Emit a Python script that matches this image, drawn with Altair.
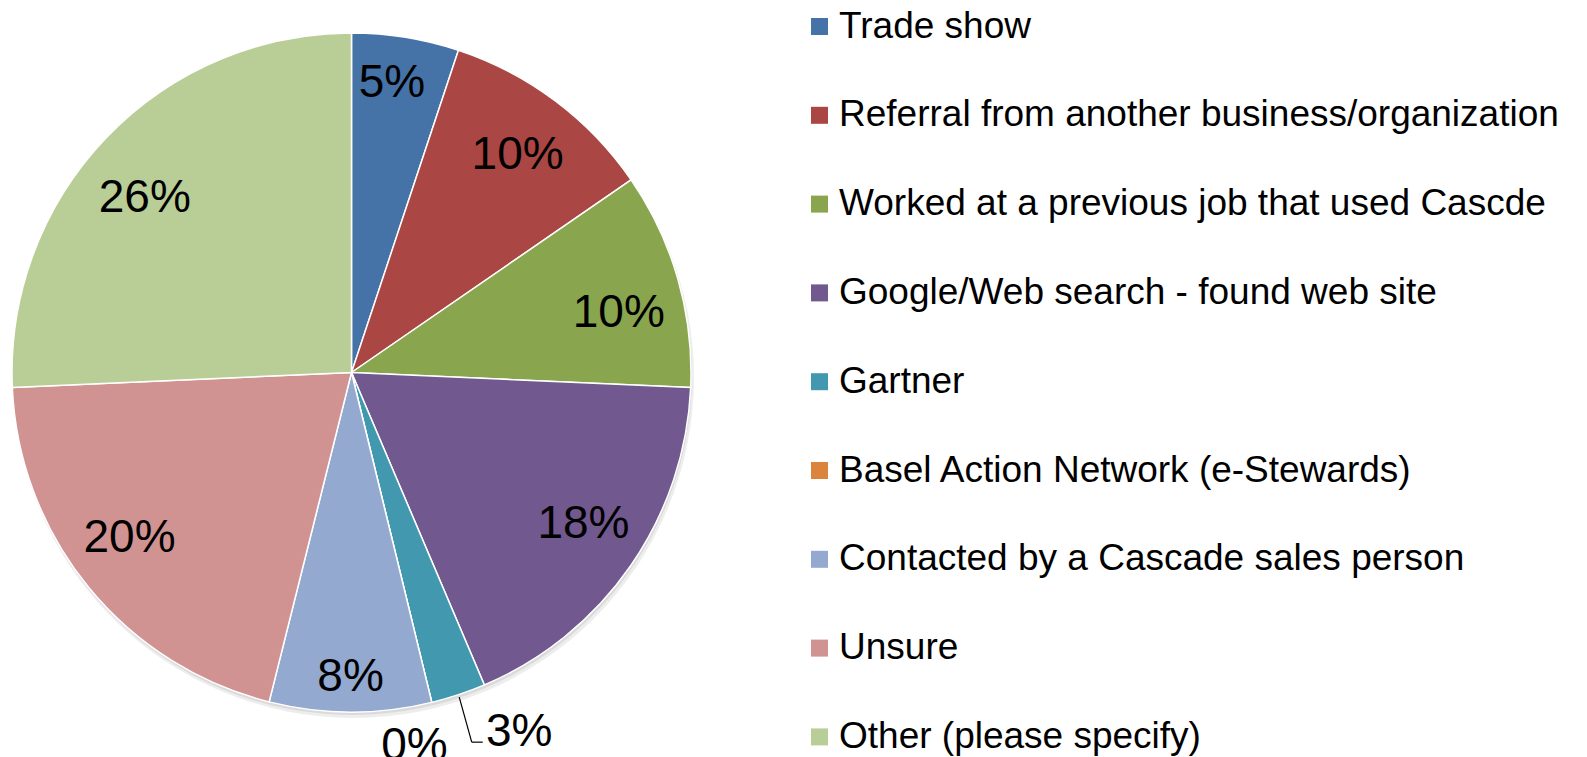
import math
import altair as alt
import pandas as pd

categories = [
    "Trade show",
    "Referral from another business/organization",
    "Worked at a previous job that used Cascde",
    "Google/Web search - found web site",
    "Gartner",
    "Basel Action Network (e-Stewards)",
    "Contacted by a Cascade sales person",
    "Unsure",
    "Other (please specify)",
]
values = [5.1, 10.3, 10.3, 17.9, 2.6, 0.0, 7.7, 20.4, 25.7]
labels = ["5%", "10%", "10%", "18%", "3%", "0%", "8%", "20%", "26%"]
colors = ["#4572A7", "#AA4643", "#89A54E", "#71588F", "#4198AF",
          "#DB843D", "#93A9CF", "#D19392", "#B9CD96"]

df = pd.DataFrame({
    "category": categories,
    "value": values,
    "label": labels,
    "idx": list(range(len(categories))),
})

FONT = "Liberation Sans"
CX, CY, R = 351.5, 372.5, 339.5
TOTAL = sum(values)

base = alt.Chart(df)

color = alt.Color(
    "category:N",
    scale=alt.Scale(domain=categories, range=colors),
    legend=alt.Legend(
        title=None, orient="none", legendX=801, legendY=8, direction="vertical",
        symbolType="square", symbolSize=289, symbolStrokeWidth=0,
        labelFontSize=37, labelFont=FONT, labelColor="black", labelOffset=1,
        rowPadding=50.8, labelLimit=1000, padding=0,
    ),
)

shadow1 = base.transform_filter("datum.idx == 0").mark_arc(
    theta=0, theta2=2 * math.pi, outerRadius=R + 1, fill="black", opacity=0.07
).encode(x=alt.value(CX + 2), y=alt.value(CY + 5))
shadow2 = base.transform_filter("datum.idx == 0").mark_arc(
    theta=0, theta2=2 * math.pi, outerRadius=R, fill="black", opacity=0.08
).encode(x=alt.value(CX + 1), y=alt.value(CY + 3))

pie = base.mark_arc(outerRadius=R, stroke="white", strokeWidth=1.5).encode(
    theta=alt.Theta("value:Q", stack=True),
    order=alt.Order("idx:Q"),
    color=color,
    x=alt.value(CX),
    y=alt.value(CY),
)

lab = base.transform_window(
    cum="sum(value)", sort=[{"field": "idx"}], frame=[None, 0]
).transform_calculate(mid="datum.cum - datum.value / 2")

theta_mid = alt.Theta("mid:Q", scale=alt.Scale(domain=[0, TOTAL], range=[0, 2 * math.pi]))

# label placement (radius, dx, dy) per slice, mimicking the spreadsheet's label placement
placement = {
    "Trade show": (297, -7, 4),
    "Referral from another business/organization": (275, 1, 2),
    "Worked at a previous job that used Cascde": (275, 3, 16),
    "Google/Web search - found web site": (275, 6, -5),
    "Gartner": (380, 48, -1.5),
    "Basel Action Network (e-Stewards)": (380, -27, 4),
    "Contacted by a Cascade sales person": (297, 0, 8),
    "Unsure": (275, -9, -8),
    "Other (please specify)": (275, -8, 16),
}

text_layers = []
for cat in categories:
    r, dx, dy = placement[cat]
    text_layers.append(
        lab.transform_filter(alt.datum.category == cat).mark_text(
            radius=r, fontSize=46, font=FONT, color="black", dx=dx, dy=dy
        ).encode(theta=theta_mid, text="label:N", x=alt.value(CX), y=alt.value(CY))
    )

leader = lab.transform_filter("datum.category == 'Gartner'").transform_calculate(
    ang=f"2 * PI * datum.mid / {TOTAL}",
).transform_calculate(
    ex=f"{CX} + 342 * sin(datum.ang)",
    ey=f"{CY} - 342 * cos(datum.ang)",
    ly=f"{CY} - 380 * cos(datum.ang) - 5.5",
).transform_calculate(
    bx="datum.ex + 12.5",
    by="datum.ly + 14.5",
).transform_calculate(
    fx="datum.bx + 11",
)

leader1 = leader.mark_rule(color="black", strokeWidth=1.2).encode(
    x=alt.X("ex:Q", scale=None, axis=None),
    y=alt.Y("ey:Q", scale=None, axis=None),
    x2="bx:Q",
    y2="by:Q",
)
leader2 = leader.mark_rule(color="black", strokeWidth=1.2).encode(
    x=alt.X("bx:Q", scale=None, axis=None),
    y=alt.Y("by:Q", scale=None, axis=None),
    x2="fx:Q",
    y2="by:Q",
)

chart = alt.layer(
    shadow1, shadow2, pie, *text_layers, leader1, leader2
).resolve_scale(theta="independent").properties(
    width=1587, height=757, autosize=alt.AutoSizeParams(type="none"), padding=0,
    background="white",
).configure_view(stroke=None)

chart.save("out.html", embed_options={"renderer": "svg", "actions": False})
